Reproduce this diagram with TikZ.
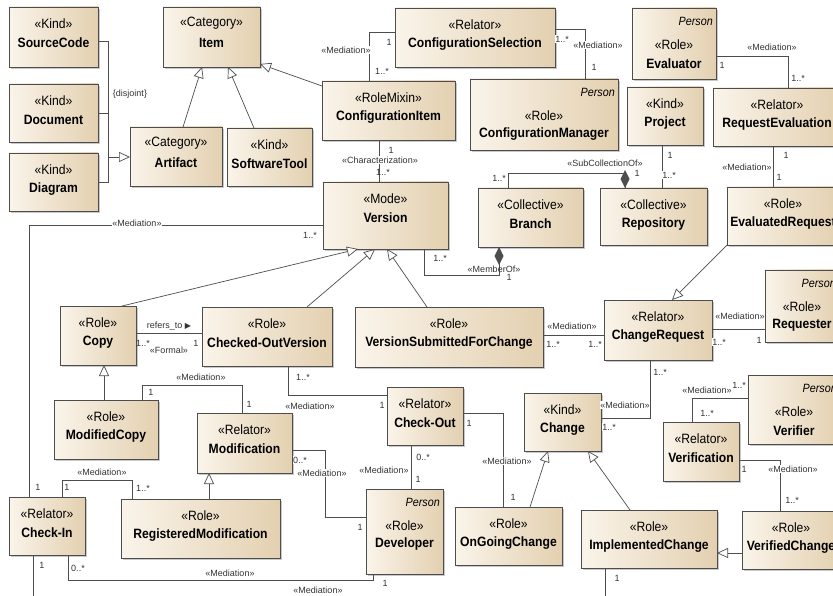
\documentclass[tikz,border=0pt]{standalone}
\usepackage{fontspec}
\setmainfont{Liberation Sans}
\newfontfamily\boxfont[FakeStretch=0.9]{Liberation Sans}
\newfontfamily\symfont{DejaVu Sans}
\usetikzlibrary{arrows.meta,shadows,calc}

\definecolor{boxlight}{HTML}{FAF4EA}
\definecolor{boxdark}{HTML}{E3D0B0}
\definecolor{edgegray}{HTML}{4D4D4D}
\definecolor{lblgray}{HTML}{333333}

\tikzset{
  umlbox/.style={draw=edgegray, line width=0.8pt, left color=boxlight, right color=boxdark,
    drop shadow={shadow xshift=2pt, shadow yshift=-2pt, opacity=0.35, fill=black!60},
    inner sep=0pt, outer sep=0pt},
  stereo/.style={font=\boxfont\fontsize{13.5}{15}\selectfont, inner sep=0pt},
  cname/.style={font=\boxfont\bfseries\fontsize{13.5}{15}\selectfont, inner sep=0pt},
  persontag/.style={font=\boxfont\itshape\fontsize{12}{14}\selectfont, inner sep=0pt, anchor=east},
  assoc/.style={draw=edgegray, line width=0.7pt},
  gen/.style={assoc, -{Triangle[fill=white, length=11pt, width=10pt]}},
  lbl/.style={font=\fontsize{9}{10}\selectfont, text=lblgray, fill=white, inner sep=0.6pt},
}

% class box: name, x1, y1, x2, y2, stereotype, class name
\newcommand\umlclass[7]{%
  \node[umlbox, minimum width={#4-#2}, minimum height={#5-#3}] (#1) at ({(#2+#4)/2},{(#3+#5)/2}) {};
  \node[stereo] (#1-st) at ([yshift=-16.5pt]#1.north) {«#6»};
  \node[cname] (#1-nm) at ([yshift=-36pt]#1.north) {#7};
}
% role box played by a Person
\newcommand\umlperson[7]{%
  \node[umlbox, minimum width={#4-#2}, minimum height={#5-#3}] (#1) at ({(#2+#4)/2},{(#3+#5)/2}) {};
  \node[persontag] (#1-pt) at ([xshift=-3pt,yshift=-13pt]#1.north east) {Person};
  \node[stereo] (#1-st) at ([yshift=-36.5pt]#1.north) {«#6»};
  \node[cname] (#1-nm) at ([yshift=-55.5pt]#1.north) {#7};
}

\begin{document}
\begin{tikzpicture}[x=1pt,y=-1pt]
\useasboundingbox (0,0) rectangle (833,596);
\clip (0,0) rectangle (833,596);
\fill[white] (0,0) rectangle (833,596);

% ---------- classes ----------
\umlclass{src}{9}{7}{98}{67}{Kind}{SourceCode}
\umlclass{doc}{9}{84}{98}{142}{Kind}{Document}
\umlclass{diag}{9}{153}{98}{211}{Kind}{Diagram}
\umlclass{item}{163}{7}{260}{67}{Category}{Item}
\umlclass{artifact}{130}{127}{222}{186}{Category}{Artifact}
\umlclass{swtool}{227}{128}{312}{186}{Kind}{SoftwareTool}
\umlclass{confitem}{322}{81}{455}{140}{RoleMixin}{ConfigurationItem}
\umlclass{confsel}{395}{8}{555}{67}{Relator}{ConfigurationSelection}
\umlperson{confmgr}{470}{79}{618}{150}{Role}{ConfigurationManager}
\umlperson{evaluator}{632}{8}{716}{79}{Role}{Evaluator}
\umlclass{project}{627}{87}{703}{145}{Kind}{Project}
\umlclass{reqeval}{713}{88}{841}{146}{Relator}{RequestEvaluation}
\umlclass{version}{323}{182}{448}{249}{Mode}{Version}
\umlclass{branch}{478}{188}{583}{247}{Collective}{Branch}
\umlclass{repo}{600}{188}{707}{245}{Collective}{Repository}
\umlclass{evalreq}{727}{187}{839}{245}{Role}{EvaluatedRequest}
\umlclass{copy}{60}{306}{136}{365}{Role}{Copy}
\umlclass{cov}{202}{307}{332}{366}{Role}{Checked-OutVersion}
\umlclass{vsfc}{355}{307}{543}{367}{Role}{VersionSubmittedForChange}
\umlclass{chreq}{604}{300}{712}{360}{Relator}{ChangeRequest}
\umlperson{requester}{765}{270}{839}{342}{Role}{Requester}
\umlclass{modcopy}{54}{400}{158}{459}{Role}{ModifiedCopy}
\umlclass{modif}{197}{413}{292}{473}{Relator}{Modification}
\umlclass{checkout}{387}{387}{463}{445}{Relator}{Check-Out}
\umlclass{change}{524}{393}{601}{451}{Kind}{Change}
\umlperson{verifier}{748}{375}{840}{444}{Role}{Verifier}
\umlclass{verif}{663}{422}{739}{481}{Relator}{Verification}
\umlclass{checkin}{9}{497}{85}{555}{Relator}{Check-In}
\umlclass{regmod}{121}{499}{280}{558}{Role}{RegisteredModification}
\umlperson{dev}{366}{489}{443}{574}{Role}{Developer}
\umlclass{ongoing}{455}{507}{562}{565}{Role}{OnGoingChange}
\umlclass{implch}{581}{510}{717}{568}{Role}{ImplementedChange}
\umlclass{verch}{742}{511}{840}{569}{Role}{VerifiedChange}

% ---------- generalizations ----------
\coordinate (gsjoin) at (108,157);
\draw[assoc] (src.east |- 0,41) -- (108,41) -- (108,182) -- (diag.east |- 0,182);
\draw[assoc] (doc.east |- 0,113) -- (108,113);
\draw[gen] (gsjoin) -- (artifact.west |- 0,157);
\node[lbl, fill=none] (disj) at (130,94) {\{disjoint\}};

\draw[gen] (183,0 |- artifact.north) -- (202,0 |- item.south);
\draw[gen] (254,0 |- swtool.north) -- (228,0 |- item.south);
\draw[gen] (confitem.west |- 0,86) -- (item.east |- 0,64);

\draw[gen] (122,0 |- copy.north) -- (358,0 |- version.south);
\draw[gen] (307,0 |- cov.north) -- (375,0 |- version.south);
\draw[gen] (427,0 |- vsfc.north) -- (387,0 |- version.south);

\draw[gen] (104,0 |- modcopy.north) -- (104,0 |- copy.south);
\draw[gen] (209,0 |- regmod.north) -- (209,0 |- modif.south);

\draw[gen] (evalreq.south west) -- (672,0 |- chreq.north);

\draw[gen] (530,0 |- ongoing.north) -- (548,0 |- change.south);
\draw[gen] (630,0 |- implch.north) -- (588,0 |- change.south);
\draw[gen] (verch.west |- 0,553) -- (implch.east |- 0,553);

% ---------- associations ----------
% ConfigurationSelection - ConfigurationItem
\draw[assoc] (369,0 |- confitem.north) -- (369,32) -- (confsel.west |- 0,32);
\node[lbl] (a1) at (346,50) {«Mediation»};
\node[lbl] (a1s) at (389,42) {1};
\node[lbl] (a1t) at (382,71) {1..*};

% ConfigurationSelection - ConfigurationManager
\draw[assoc] (confsel.east |- 0,29) -- (585,29) -- (585,0 |- confmgr.north);
\node[lbl] (a2) at (598,45) {«Mediation»};
\node[lbl] (a2s) at (562,39) {1..*};
\node[lbl] (a2t) at (594,67) {1};

% Evaluator - RequestEvaluation
\draw[assoc] (evaluator.east |- 0,56) -- (788,56) -- (788,0 |- reqeval.north);
\node[lbl] (a3) at (772,47) {«Mediation»};
\node[lbl] (a3s) at (722,65) {1};
\node[lbl] (a3t) at (798,78) {1..*};

% Project - Repository
\draw[assoc] (662,0 |- project.south) -- (662,0 |- repo.north);
\node[lbl] (a4s) at (670,155) {1};
\node[lbl] (a4t) at (669,175) {1..*};

% Branch - Repository (SubCollectionOf)
\draw[assoc] (508,0 |- branch.north) -- (508,173) -- (625,173) -- (625,0 |- repo.north);
\fill[edgegray] (625,0 |- repo.north) -- ++(4.5,-9) -- ++(-4.5,-9) -- ++(-4.5,9) -- cycle;
\node[lbl] (a5) at (605,163) {«SubCollectionOf»};
\node[lbl] (a5s) at (499,178) {1..*};
\node[lbl] (a5t) at (637,173) {1};

% Version - Branch (MemberOf)
\draw[assoc] (424,0 |- version.south) -- (424,275) -- (499,275) -- (499,0 |- branch.south);
\fill[edgegray] (499,0 |- branch.south) -- ++(4.5,9) -- ++(-4.5,9) -- ++(-4.5,-9) -- cycle;
\node[lbl, fill=none] (a6) at (494,269) {«MemberOf»};
\node[lbl, fill=none] (a6s) at (440,258) {1..*};
\node[lbl, fill=none] (a6t) at (509,277) {1};

% RequestEvaluation - EvaluatedRequest
\draw[assoc] (773,0 |- reqeval.south) -- (773,0 |- evalreq.north);
\node[lbl] (a7) at (747,167) {«Mediation»};
\node[lbl] (a7s) at (786,155) {1};
\node[lbl] (a7t) at (779,177) {1};

% ConfigurationItem - Version
\draw[assoc] (379,0 |- confitem.south) -- (379,0 |- version.north);
\node[lbl] (a8) at (380,160) {«Characterization»};
\node[lbl, fill=none] (a8s) at (391,150) {1};
\node[lbl, fill=none] (a8t) at (383,172) {1..*};

% Check-In - Version
\draw[assoc] (29,0 |- checkin.north) -- (29,225) -- (version.west |- 0,225);
\node[lbl] (a9) at (137,223) {«Mediation»};
\node[lbl] (a9s) at (38,487) {1};
\node[lbl] (a9t) at (310,235) {1..*};

% Copy - Checked-OutVersion
\draw[assoc] (copy.east |- 0,333) -- (cov.west |- 0,333);
\node[lbl, fill=none] (a10) at (169,326) {refers\_to {\symfont\fontsize{8}{9}\selectfont ▶}};
\node[lbl, fill=none] (a10f) at (169,350) {«Formal»};
\node[lbl, fill=none] (a10s) at (143,343) {1..*};
\node[lbl, fill=none] (a10t) at (196,343) {1};

% VersionSubmittedForChange - ChangeRequest
\draw[assoc] (vsfc.east |- 0,335) -- (chreq.west |- 0,335);
\node[lbl] (a11) at (572,326) {«Mediation»};
\node[lbl] (a11s) at (553,344) {1..*};
\node[lbl] (a11t) at (595,344) {1..*};

% ChangeRequest - Requester
\draw[assoc] (chreq.east |- 0,329) -- (requester.west |- 0,329);
\node[lbl] (a12) at (740,316) {«Mediation»};
\node[lbl] (a12s) at (719,342) {1..*};
\node[lbl] (a12t) at (759,340) {1};

% ModifiedCopy - Modification
\draw[assoc] (142,0 |- modcopy.north) -- (142,385) -- (242,385) -- (242,0 |- modif.north);
\node[lbl] (a13) at (201,377) {«Mediation»};
\node[lbl] (a13s) at (151,392) {1};
\node[lbl] (a13t) at (249,404) {1};

% Checked-OutVersion - Check-Out
\draw[assoc] (288,0 |- cov.south) -- (288,395) -- (checkout.west |- 0,395);
\node[lbl] (a14) at (310,406) {«Mediation»};
\node[lbl] (a14s) at (303,377) {1..*};
\node[lbl] (a14t) at (382,405) {1};

% Modification - Developer
\draw[assoc] (modif.east |- 0,450) -- (325,450) -- (325,517) -- (dev.west |- 0,517);
\node[lbl] (a15) at (322,473) {«Mediation»};
\node[lbl] (a15s) at (300,460) {0..*};
\node[lbl] (a15t) at (360,527) {1};

% Check-Out - Developer
\draw[assoc] (411,0 |- checkout.south) -- (411,0 |- dev.north);
\node[lbl] (a16) at (384,470) {«Mediation»};
\node[lbl] (a16s) at (423,457) {0..*};
\node[lbl] (a16t) at (418,479) {1};

% Check-Out - OnGoingChange
\draw[assoc] (checkout.east |- 0,413) -- (503,413) -- (503,0 |- ongoing.north);
\node[lbl] (a17) at (507,461) {«Mediation»};
\node[lbl] (a17s) at (469,423) {1};
\node[lbl] (a17t) at (513,497) {1};

% ChangeRequest - Change
\draw[assoc] (650,0 |- chreq.south) -- (650,418) -- (change.east |- 0,418);
\node[lbl] (a18) at (625,405) {«Mediation»};
\node[lbl] (a18s) at (660,372) {1..*};
\node[lbl] (a18t) at (609,427) {1..*};

% Verification - Verifier
\draw[assoc] (692,0 |- verif.north) -- (692,398) -- (verifier.west |- 0,398);
\node[lbl] (a19) at (707,390) {«Mediation»};
\node[lbl, fill=none] (a19s) at (739,385) {1..*};
\node[lbl] (a19t) at (707,413) {1..*};

% Verification - VerifiedChange
\draw[assoc] (verif.east |- 0,460) -- (780,460) -- (780,0 |- verch.north);
\node[lbl] (a20) at (793,469) {«Mediation»};
\node[lbl] (a20s) at (744,469) {1};
\node[lbl] (a20t) at (792,500) {1..*};

% Check-In - RegisteredModification
\draw[assoc] (62,0 |- checkin.north) -- (62,480) -- (132,480) -- (132,0 |- regmod.north);
\node[lbl] (a21) at (102,472) {«Mediation»};
\node[lbl] (a21s) at (67,487) {1};
\node[lbl] (a21t) at (143,488) {1..*};

% Check-In - Developer
\draw[assoc] (68,0 |- checkin.south) -- (68,580) -- (373,580) -- (373,0 |- dev.south);
\node[lbl] (a22) at (230,573) {«Mediation»};
\node[lbl] (a22s) at (78,568) {0..*};
\node[lbl] (a22t) at (385,583) {1};

% Check-In - ImplementedChange
\draw[assoc] (33,0 |- checkin.south) -- (33,597) -- (605,597) -- (605,0 |- implch.south);
\node[lbl] (a23) at (318,590) {«Mediation»};
\node[lbl] (a23s) at (42,565) {1};
\node[lbl] (a23t) at (617,578) {1};
\end{tikzpicture}
\end{document}
